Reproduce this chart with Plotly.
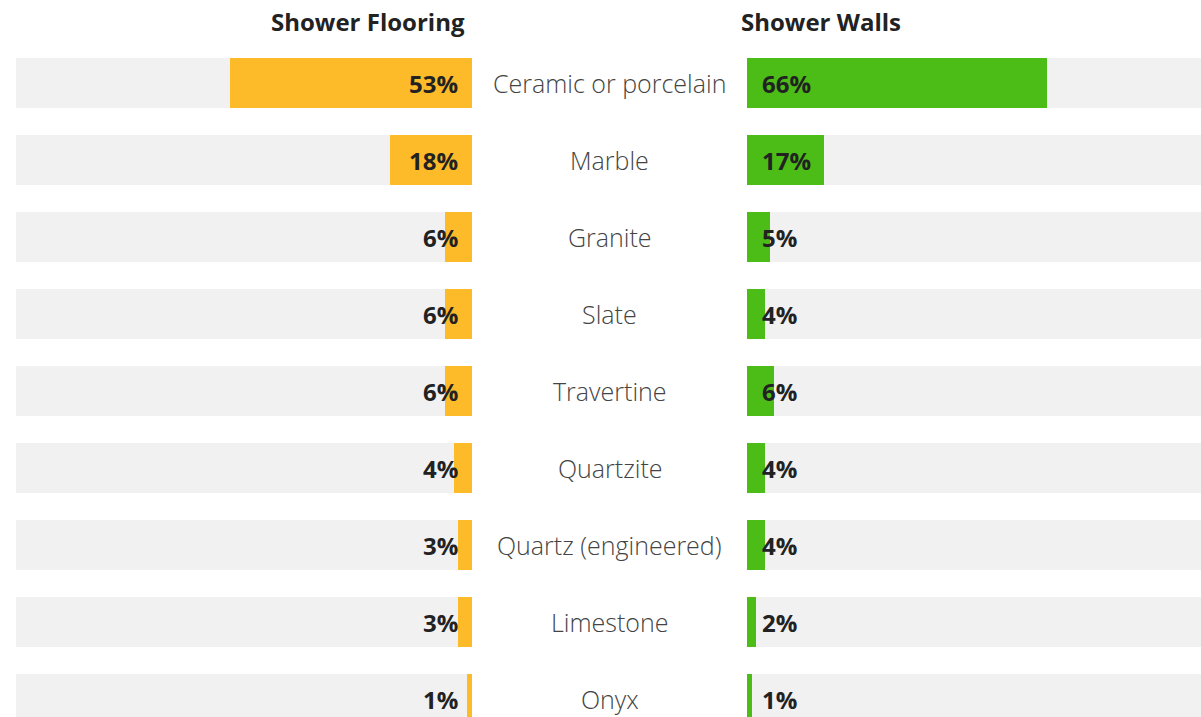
import plotly.graph_objects as go

categories = ["Ceramic or porcelain", "Marble", "Granite", "Slate", "Travertine",
              "Quartzite", "Quartz (engineered)", "Limestone", "Onyx"]
flooring = [53, 18, 6, 6, 6, 4, 3, 3, 1]
walls = [66, 17, 5, 4, 6, 4, 4, 2, 1]
full = [100] * len(categories)
title_left = "Shower Flooring"
title_right = "Shower Walls"

W, H = 1201, 717
yellow = "#FDBB29"
green = "#4CBC16"
gray = "#F1F1F1"
dark = "#222222"
ypos = list(range(len(categories)))
bw = 0.65

fig = go.Figure()
fig.add_trace(go.Bar(y=ypos, x=full, orientation="h", marker=dict(color=gray, line=dict(width=0)),
                     width=bw, xaxis="x", yaxis="y", hoverinfo="skip", showlegend=False))
fig.add_trace(go.Bar(y=ypos, x=flooring, orientation="h", marker=dict(color=yellow, line=dict(width=0)),
                     width=bw, xaxis="x", yaxis="y", showlegend=False))
fig.add_trace(go.Bar(y=ypos, x=full, orientation="h", marker=dict(color=gray, line=dict(width=0)),
                     width=bw, xaxis="x2", yaxis="y", hoverinfo="skip", showlegend=False))
fig.add_trace(go.Bar(y=ypos, x=walls, orientation="h", marker=dict(color=green, line=dict(width=0)),
                     width=bw, xaxis="x2", yaxis="y", showlegend=False))

ann = []
valfont = dict(family="Open Sans", size=24, color=dark, weight="bold")
for i, c in enumerate(categories):
    ann.append(dict(x=0, y=i, xref="x", yref="y", text=f"{flooring[i]}%", showarrow=False,
                    xanchor="right", yanchor="middle", xshift=-12, font=valfont))
    ann.append(dict(x=0, y=i, xref="x2", yref="y", text=f"{walls[i]}%", showarrow=False,
                    xanchor="left", yanchor="middle", xshift=13, font=valfont))
    ann.append(dict(x=609.5 / W, y=i, xref="paper", yref="y", text=c, showarrow=False,
                    xanchor="center", yanchor="middle",
                    font=dict(family="Open Sans", size=25, color="#444444", weight=300)))

top = 40
titlefont = dict(family="Open Sans", size=24, color=dark, weight="bold")
ty = 1 + (top - 21) / (H - top)
ann.append(dict(x=467 / W, y=ty, xref="paper", yref="paper", text=title_left, showarrow=False,
                xanchor="right", yanchor="middle", font=titlefont))
ann.append(dict(x=739 / W, y=ty, xref="paper", yref="paper", text=title_right, showarrow=False,
                xanchor="left", yanchor="middle", font=titlefont))

r0 = -(83 - top) / 77
r1 = (H - 83) / 77

fig.update_layout(
    width=W, height=H,
    margin=dict(l=0, r=0, t=top, b=0),
    paper_bgcolor="white", plot_bgcolor="white",
    barmode="overlay", bargap=0,
    showlegend=False,
    xaxis=dict(domain=[16 / W, 472 / W], range=[100, 0], visible=False, fixedrange=True),
    xaxis2=dict(domain=[747 / W, 1.0], range=[0, 100], visible=False, fixedrange=True),
    yaxis=dict(range=[r1, r0], visible=False, fixedrange=True),
    annotations=ann,
)

fig.write_html("out.html", config={"displayModeBar": False},
               post_script="document.body.style.margin='0';document.body.style.overflow='hidden';")
